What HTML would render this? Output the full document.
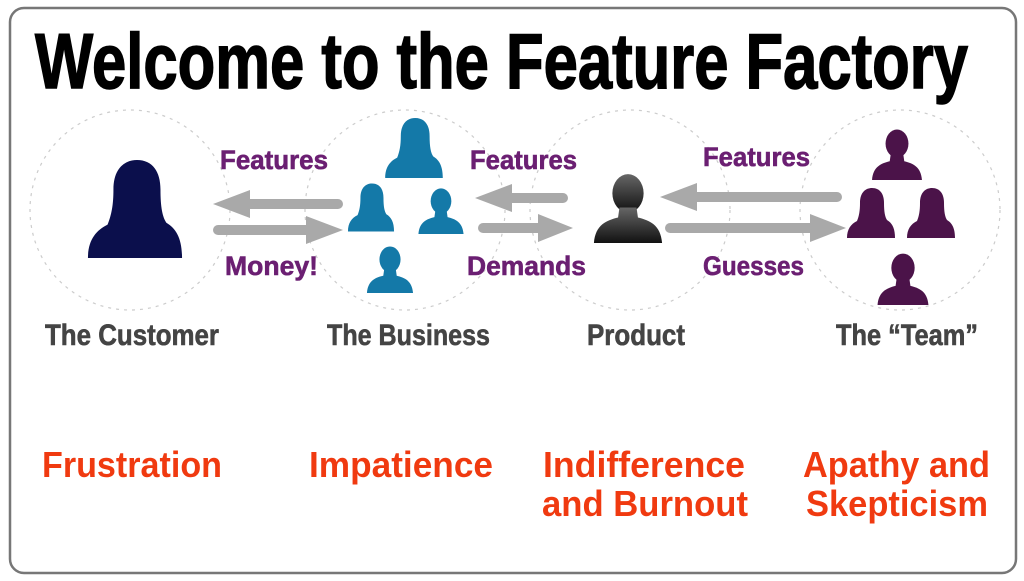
<!DOCTYPE html>
<html><head><meta charset="utf-8"><style>
html,body{margin:0;padding:0;background:#fff;}
svg{display:block;}
</style></head><body>
<svg width="1024" height="581" viewBox="0 0 1024 581" xmlns="http://www.w3.org/2000/svg">
<defs>
<symbol id="man" viewBox="0 0 100 100">
<ellipse cx="50" cy="30" rx="22" ry="27"/>
<path d="M38,50 L62,50 L64,64 C80,68 96,74 98,100 L2,100 C4,74 20,68 36,64 Z"/>
</symbol>
<symbol id="woman" viewBox="0 0 100 100">
<path d="M28,30 C28,8 40,0 52,0 C68,0 76,12 76,30 C76,48 78,58 82,64 C92,70 98,80 98,100 L2,100 C2,82 10,72 22,66 C26,56 28,46 28,30 Z"/>
</symbol>
<linearGradient id="g" x1="0" y1="0" x2="0" y2="1"><stop offset="0" stop-color="#666"/><stop offset="1" stop-color="#111"/></linearGradient>
</defs>
<rect x="10" y="8" width="1006" height="565" rx="14" fill="#fff" stroke="#777" stroke-width="2.5"/>
<text x="35" y="88" font-family="Liberation Sans, sans-serif" font-weight="bold" font-size="78" textLength="933" lengthAdjust="spacingAndGlyphs" fill="#000" stroke="#000" stroke-width="1.5">Welcome to the Feature Factory</text>

<g fill="none" stroke="#ccc" stroke-width="1.2" stroke-dasharray="3,5">
<circle cx="130" cy="210" r="100"/>
<circle cx="405" cy="210" r="100"/>
<circle cx="630" cy="210" r="100"/>
<circle cx="900" cy="210" r="100"/>
</g>

<use href="#woman" x="86" y="160" width="98" height="98" fill="#0b0f4c"/>
<g fill="#1479a8">
<use href="#woman" x="384" y="118" width="60" height="60"/>
<use href="#woman" x="347" y="183" width="48" height="49"/>
<use href="#man" x="412" y="187" width="58" height="47"/>
<use href="#man" x="364" y="245" width="52" height="48"/>
</g>
<use href="#man" x="589" y="172" width="78" height="71" fill="url(#g)"/>
<g fill="#4b1349">
<use href="#man" x="862" y="128" width="70" height="52"/>
<use href="#woman" x="846" y="188" width="50" height="50"/>
<use href="#woman" x="902" y="188" width="58" height="50"/>
<use href="#man" x="868" y="252" width="70" height="53"/>
</g>

<g fill="#a9a9a9" stroke="#a9a9a9" stroke-linecap="round">
<line x1="245" y1="204" x2="338" y2="204" stroke-width="10"/>
<polygon points="213,204 250,190 250,218" stroke="none"/>
<line x1="218" y1="230" x2="310" y2="230" stroke-width="10"/>
<polygon points="343,230 306,216 306,244" stroke="none"/>
<line x1="500" y1="198" x2="563" y2="198" stroke-width="10"/>
<polygon points="475,198 512,184 512,212" stroke="none"/>
<line x1="483" y1="228" x2="545" y2="228" stroke-width="10"/>
<polygon points="573,228 538,214 538,242" stroke="none"/>
<line x1="690" y1="197" x2="837" y2="197" stroke-width="10"/>
<polygon points="660,197 697,183 697,211" stroke="none"/>
<line x1="670" y1="228" x2="815" y2="228" stroke-width="10"/>
<polygon points="846,228 810,214 810,242" stroke="none"/>
</g>

<g font-family="Liberation Sans, sans-serif" font-weight="bold" font-size="27" fill="#6b1f72" stroke="#6b1f72" stroke-width="0.6">
<text x="220" y="169" textLength="108" lengthAdjust="spacingAndGlyphs">Features</text>
<text x="225" y="275" textLength="93" lengthAdjust="spacingAndGlyphs">Money!</text>
<text x="470" y="169" textLength="107" lengthAdjust="spacingAndGlyphs">Features</text>
<text x="467" y="275" textLength="119" lengthAdjust="spacingAndGlyphs">Demands</text>
<text x="703" y="166" textLength="107" lengthAdjust="spacingAndGlyphs">Features</text>
<text x="703" y="275" textLength="101" lengthAdjust="spacingAndGlyphs">Guesses</text>
</g>
<g font-family="Liberation Sans, sans-serif" font-weight="bold" font-size="30" fill="#444" stroke="#444" stroke-width="0.6">
<text x="45" y="345" textLength="174" lengthAdjust="spacingAndGlyphs">The Customer</text>
<text x="327" y="345" textLength="163" lengthAdjust="spacingAndGlyphs">The Business</text>
<text x="587" y="345" textLength="98" lengthAdjust="spacingAndGlyphs">Product</text>
<text x="836" y="345" textLength="142" lengthAdjust="spacingAndGlyphs">The “Team”</text>
</g>
<g font-family="Liberation Sans, sans-serif" font-weight="bold" font-size="36" fill="#f03a10">
<text x="42" y="477" textLength="180" lengthAdjust="spacingAndGlyphs">Frustration</text>
<text x="309" y="477" textLength="184" lengthAdjust="spacingAndGlyphs">Impatience</text>
<text x="543" y="477" textLength="202" lengthAdjust="spacingAndGlyphs">Indifference</text>
<text x="542" y="516" textLength="206" lengthAdjust="spacingAndGlyphs">and Burnout</text>
<text x="803" y="477" textLength="187" lengthAdjust="spacingAndGlyphs">Apathy and</text>
<text x="806" y="516" textLength="182" lengthAdjust="spacingAndGlyphs">Skepticism</text>
</g>
</svg>
</body></html>
